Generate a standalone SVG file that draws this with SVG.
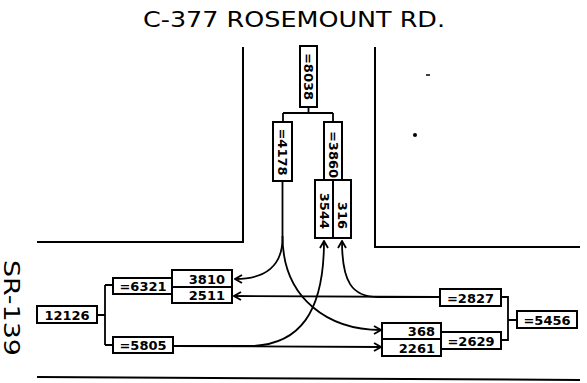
<svg xmlns="http://www.w3.org/2000/svg" width="587" height="383" viewBox="0 0 587 383">
<style>
.road{fill:none;stroke:#000;stroke-width:2}
.box{fill:#fff;stroke:#000;stroke-width:2}
.ln{fill:none;stroke:#000;stroke-width:1.8}
.t{font-family:"DejaVu Sans","Liberation Sans",sans-serif;font-weight:bold;font-size:13px;fill:#000}
.big{font-family:"DejaVu Sans","Liberation Sans",sans-serif;font-size:21px;fill:#000}
</style>
<defs>
<marker id="ah" markerWidth="10" markerHeight="10" refX="9" refY="5" orient="auto" markerUnits="userSpaceOnUse">
<path d="M2,1 L9,5 L2,9" fill="none" stroke="#000" stroke-width="1.8"/>
</marker>
</defs>
<rect width="587" height="383" fill="#fff"/>
<g id="roads">
<path class="road" d="M243,47 V242 H37"/>
<path class="road" d="M375,47 V247 H580"/>
<path class="road" d="M37,377 L580,380"/>
<path d="M426,75 h4" stroke="#000" stroke-width="1.5"/>
<circle cx="415" cy="135" r="2" fill="#000"/>
</g>
<text class="big" x="294" y="27" text-anchor="middle" textLength="302" lengthAdjust="spacingAndGlyphs">C-377 ROSEMOUNT RD.</text>
<text class="big" transform="translate(4,308) rotate(90)" text-anchor="middle" textLength="96" lengthAdjust="spacingAndGlyphs">SR-139</text>
<g id="connectors">
<path class="ln" d="M308.5,107 V113 M283,113 H333 M283,113 V122 M333,113 V122"/>
<path class="ln" d="M97,315 H105 M105,285 V345 M105,285 H113 M105,345 H113"/>
<path class="ln" d="M501,297 H508 V340 H501 M508,320 H517"/>
<path class="ln" d="M282.5,181 V238 C282.5,266 265,279 235,279" marker-end="url(#ah)"/>
<path class="ln" d="M282.5,236 C282.5,300 330,330 381,330" marker-end="url(#ah)"/>
<path class="ln" d="M440,297 L234,296" marker-end="url(#ah)"/>
<path class="ln" d="M440,297 H378 C352,297 342,282 342,241" marker-end="url(#ah)"/>
<path class="ln" d="M173,346 L381,347" marker-end="url(#ah)"/>
<path class="ln" d="M173,346 H248 C300,346 324,312 324,241" marker-end="url(#ah)"/>
</g>
<g id="n8038"><rect class="box" x="300" y="46" width="17" height="61"/><text class="t" transform="translate(308.5,76.5) rotate(90)" text-anchor="middle" dominant-baseline="central">=8038</text></g>
<g id="n4178"><rect class="box" x="273" y="122" width="19" height="59"/><text class="t" transform="translate(282.5,152) rotate(90)" text-anchor="middle" dominant-baseline="central">=4178</text></g>
<g id="n3860"><rect class="box" x="324" y="122" width="18" height="58"/><text class="t" transform="translate(333,154.5) rotate(90)" text-anchor="middle" dominant-baseline="central">=3860</text></g>
<g id="n3544"><rect class="box" x="315" y="180" width="18" height="58"/><text class="t" transform="translate(324,229) rotate(90)" text-anchor="end" dominant-baseline="central">3544</text></g>
<g id="n316"><rect class="box" x="333" y="180" width="18" height="58"/><text class="t" transform="translate(342,229) rotate(90)" text-anchor="end" dominant-baseline="central">316</text></g>
<g id="n12126"><rect class="box" x="37" y="306" width="60" height="17"/><text class="t" x="67" y="319.5" text-anchor="middle">12126</text></g>
<g id="n6321"><rect class="box" x="113" y="278" width="60" height="16"/><text class="t" x="143" y="291" text-anchor="middle">=6321</text></g>
<g id="n5805"><rect class="box" x="113" y="337" width="60" height="16"/><text class="t" x="143" y="350" text-anchor="middle">=5805</text></g>
<g id="n3810"><rect class="box" x="172" y="270" width="60" height="17"/><text class="t" x="225" y="283.5" text-anchor="end">3810</text></g>
<g id="n2511"><rect class="box" x="172" y="287" width="60" height="16"/><text class="t" x="225" y="300" text-anchor="end">2511</text></g>
<g id="n2827"><rect class="box" x="440" y="289" width="61" height="17"/><text class="t" x="470.5" y="302.5" text-anchor="middle">=2827</text></g>
<g id="n5456"><rect class="box" x="517" y="311" width="60" height="17"/><text class="t" x="547" y="324.5" text-anchor="middle">=5456</text></g>
<g id="n2629"><rect class="box" x="441" y="332" width="60" height="17"/><text class="t" x="471" y="345.5" text-anchor="middle">=2629</text></g>
<g id="n368"><rect class="box" x="382" y="323" width="59" height="16"/><text class="t" x="435" y="336" text-anchor="end">368</text></g>
<g id="n2261"><rect class="box" x="382" y="339" width="59" height="17"/><text class="t" x="435" y="352.5" text-anchor="end">2261</text></g>
</svg>
